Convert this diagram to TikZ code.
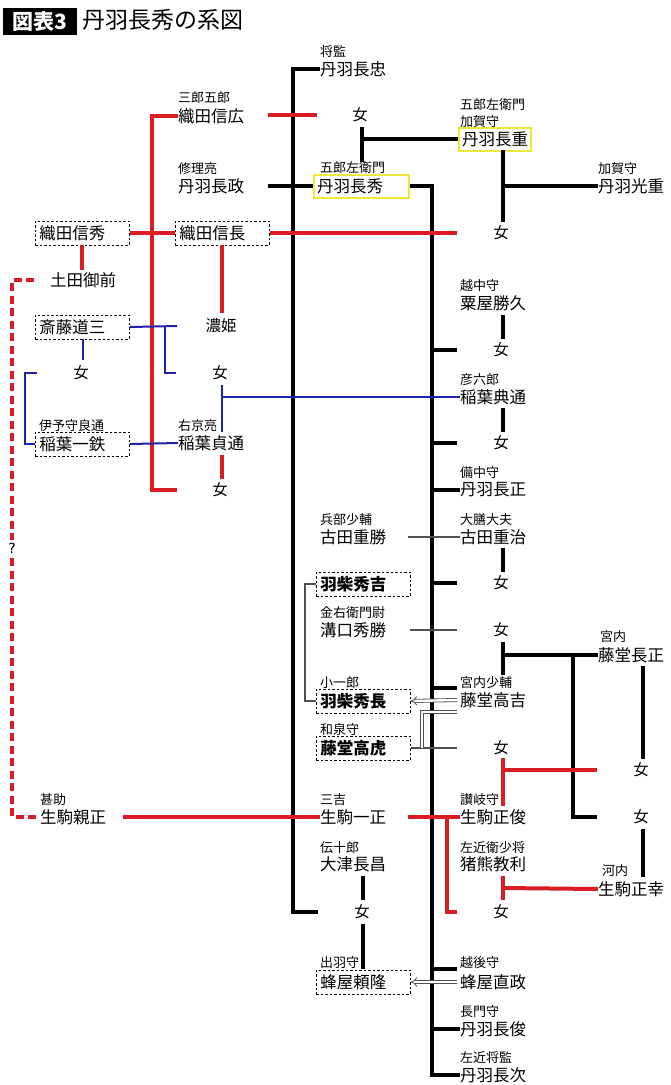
\documentclass[tikz,border=0pt]{standalone}
\usepackage{fontspec}
\setmainfont{Noto Sans CJK JP}
\newfontfamily\qmarkfont{DejaVu Sans}
\usetikzlibrary{arrows.meta}
\definecolor{KeizuRed}{HTML}{D81E24}
\definecolor{KeizuBlue}{HTML}{1E22A8}
\definecolor{KeizuYellow}{HTML}{F0E63C}
\definecolor{KeizuGray}{HTML}{505050}

\tikzset{
  nm/.style={anchor=west, inner sep=0pt, font=\fontsize{16.5}{16.5}\selectfont},
  ttl/.style={anchor=west, inner sep=0pt, font=\fontsize{13}{13}\selectfont},
  onna/.style={inner sep=0pt, font=\fontsize{15.5}{15.5}\selectfont},
  dbox/.style={draw, line width=0.9pt, dash pattern=on 2.5pt off 2pt, anchor=west,
    inner xsep=4pt, inner ysep=0pt, minimum height=24pt, text width=86pt, align=left,
    font=\fontsize{16.5}{16.5}\selectfont},
  ybox/.style={draw=KeizuYellow, line width=2pt, anchor=west, inner xsep=3pt,
    inner ysep=0pt, minimum height=23pt, text width=#1, align=left,
    font=\fontsize{16.5}{16.5}\selectfont},
  blk/.style={line width=4pt, black},
  redl/.style={line width=4pt, KeizuRed},
  blu/.style={line width=2pt, KeizuBlue},
  thn/.style={line width=1.2pt, KeizuGray},
  dbl/.style={draw=KeizuGray, line width=0.8pt, double=white, double distance=2.4pt},
}

\begin{document}
\begin{tikzpicture}[x=1pt, y=-1pt]
\useasboundingbox (0,0) rectangle (670,1085);

% heading
\node[fill=black, text=white, font=\bfseries\fontsize{21}{21}\selectfont, minimum width=74pt,
  minimum height=27pt, inner sep=0pt, anchor=west] (zuhyo) at (3,21) {図表3};
\node[anchor=west, inner sep=0pt, font=\fontsize{23}{23}\selectfont] (heading) at (82,20) {丹羽長秀の系図};

% left side: Oda, Saito, Inaba
\node[ttl] (nobuhiro-t) at (178,98) {三郎五郎};
\node[nm] (nobuhiro) at (178,116) {織田信広};
\node[ttl] (nagamasa-t) at (178,169) {修理亮};
\node[nm] (nagamasa) at (178,186) {丹羽長政};
\node[dbox] (nobuhide) at (35,233) {織田信秀};
\node[dbox] (nobunaga) at (175,233) {織田信長};
\node[nm] (tsuchida) at (50,280) {土田御前};
\node[dbox] (dosan) at (35,327) {斎藤道三};
\node[onna] (nohime) at (221,326) {濃姫};
\node[onna] (onna-dosan) at (81,373) {女};
\node[onna] (onna-dosan2) at (220,373) {女};
\node[ttl] (ittetsu-t) at (39,426) {伊予守良通};
\node[dbox] (ittetsu) at (35,444) {稲葉一鉄};
\node[ttl] (sadamichi-t) at (178,426) {右京亮};
\node[nm] (sadamichi) at (178,443) {稲葉貞通};
\node[onna] (onna-sada) at (220,490) {女};
\node[ttl] (chikamasa-t) at (40,800) {甚助};
\node[nm] (chikamasa) at (40,817) {生駒親正};

% middle column
\node[ttl] (nagatada-t) at (320,52) {将監};
\node[nm] (nagatada) at (320,69) {丹羽長忠};
\node[onna] (onna-top) at (360,115) {女};
\node[ttl] (nagahide-t) at (320,168) {五郎左衛門};
\node[ybox=89pt] (nagahide) at (313,186) {丹羽長秀};
\node[ttl] (shigekatsu-t) at (320,520) {兵部少輔};
\node[nm] (shigekatsu) at (320,537) {古田重勝};
\node[dbox, font=\bfseries\fontsize{16.5}{16.5}\selectfont] (hideyoshi) at (316,584) {羽柴秀吉};
\node[ttl] (hidekatsu-t) at (320,613) {金右衛門尉};
\node[nm] (hidekatsu) at (320,630) {溝口秀勝};
\node[ttl] (hidenaga-t) at (320,683) {小一郎};
\node[dbox, font=\bfseries\fontsize{16.5}{16.5}\selectfont] (hidenaga) at (316,701) {羽柴秀長};
\node[ttl] (takatora-t) at (320,730) {和泉守};
\node[dbox, font=\bfseries\fontsize{16.5}{16.5}\selectfont] (takatora) at (316,748) {藤堂高虎};
\node[ttl] (kazumasa-t) at (320,800) {三吉};
\node[nm] (kazumasa) at (320,817) {生駒一正};
\node[ttl] (nagamasa-o-t) at (320,848) {伝十郎};
\node[nm] (nagamasa-o) at (320,864) {大津長昌};
\node[onna] (onna-otsu) at (362,912) {女};
\node[ttl] (yoritaka-t) at (320,963) {出羽守};
\node[dbox] (yoritaka) at (316,982) {蜂屋頼隆};

% right column
\node[ttl] (nagashige-t1) at (460,105) {五郎左衛門};
\node[ttl] (nagashige-t2) at (460,122) {加賀守};
\node[ybox=66pt] (nagashige) at (458,139) {丹羽長重};
\node[ttl] (mitsushige-t) at (598,169) {加賀守};
\node[nm] (mitsushige) at (598,186) {丹羽光重};
\node[onna] (onna-shige) at (501,233) {女};
\node[ttl] (katsuhisa-t) at (460,286) {越中守};
\node[nm] (katsuhisa) at (460,303) {粟屋勝久};
\node[onna] (onna-awaya) at (501,350) {女};
\node[ttl] (noritomi-t) at (460,380) {彦六郎};
\node[nm] (noritomi) at (460,397) {稲葉典通};
\node[onna] (onna-inaba) at (501,443) {女};
\node[ttl] (nagamasa-b-t) at (460,473) {備中守};
\node[nm] (nagamasa-b) at (460,490) {丹羽長正};
\node[ttl] (shigeharu-t) at (460,520) {大膳大夫};
\node[nm] (shigeharu) at (460,537) {古田重治};
\node[onna] (onna-furuta) at (501,583) {女};
\node[onna] (onna-mizo) at (501,630) {女};
\node[ttl] (nagamasa-t2-t) at (600,637) {宮内};
\node[nm] (nagamasa-t2) at (598,655) {藤堂長正};
\node[ttl] (takayoshi-t) at (460,683) {宮内少輔};
\node[nm] (takayoshi) at (460,700) {藤堂高吉};
\node[onna] (onna-tora) at (501,748) {女};
\node[onna] (onna-naga) at (641,770) {女};
\node[ttl] (masatoshi-t) at (460,800) {讃岐守};
\node[nm] (masatoshi) at (460,817) {生駒正俊};
\node[onna] (onna-todo) at (641,817) {女};
\node[ttl] (noritoshi-t) at (460,848) {左近衛少将};
\node[nm] (noritoshi) at (460,864) {猪熊教利};
\node[ttl] (masayuki-t) at (602,871) {河内};
\node[nm] (masayuki) at (598,889) {生駒正幸};
\node[onna] (onna-ikoma) at (501,912) {女};
\node[ttl] (naomasa-t) at (460,963) {越後守};
\node[nm] (naomasa) at (460,982) {蜂屋直政};
\node[ttl] (nagatoshi-t) at (460,1012) {長門守};
\node[nm] (nagatoshi) at (460,1029) {丹羽長俊};
\node[ttl] (nagatsugu-t) at (460,1058) {左近将監};
\node[nm] (nagatsugu) at (460,1075) {丹羽長次};

% black lines
\draw[blk] (nagatada.west) -| (293,912) -- (318,912);
\draw[blk] (268,186) -- (nagahide.west);
\draw[blk] (nagahide.east) -| (432,1075) -- (nagatsugu.west);
\foreach \y in {350,443,583,688,969}
  \draw[blk] (432,\y) -- (457,\y);
\draw[blk] (432,490) -- (nagamasa-b.west);
\draw[blk] (432,1029) -- (nagatoshi.west);
\draw[blk] (362,127) -- (362,162);
\draw[blk] (362,139) -- (nagashige.west);
\draw[blk] (503,150) -- (503,222);
\draw[blk] (503,186) -- (mitsushige.west);
\draw[blk] (503,315) -- (503,339);
\draw[blk] (503,408) -- (503,432);
\draw[blk] (503,548) -- (503,572);
\draw[blk] (503,642) -- (503,675);
\draw[blk] (503,655) -- (nagamasa-t2.west);
\draw[blk] (573,655) -- (573,817) -- (597,817);
\draw[blk] (643,666) -- (643,759);
\draw[blk] (643,829) -- (643,877);
\draw[blk] (363,876) -- (363,900);
\draw[blk] (363,924) -- (363,969);

% red lines
\draw[redl] (nobuhiro.west) -| (152,490) -- (177,490);
\draw[redl] (268,115) -- (317,115);
\draw[redl] (nobuhide.east) -- (nobunaga.west);
\draw[redl] (nobunaga.east) -- (457,233);
\draw[redl] (nobuhide.south -| 82,0) -- (82,270);
\draw[redl] (222,245) -- (222,313);
\draw[redl] (222,455) -- (222,479);
\draw[redl] (chikamasa.east) ++(17,0) -- (kazumasa.west);
\draw[redl] (408,817) -- (masatoshi.west);
\draw[redl] (447,817) |- (457,912);
\draw[redl] (503,758) -- (503,806);
\draw[redl] (503,770) -- (597,770);
\draw[redl] (503,876) -- (503,900);
\draw[redl] (503,888) -- (masayuki.west);
\draw[KeizuRed, line width=3.5pt, dash pattern=on 8pt off 4.5pt]
  (34,280) -- (12,280) -- (12,817) -- (36,817);
\node[fill=white, inner xsep=1pt, inner ysep=3pt, font=\qmarkfont\fontsize{14}{14}\selectfont] (unknown) at (12,548) {?};

% blue lines
\draw[blu] (dosan.east) -- (177,326);
\draw[blu] (83,339) -- (83,360);
\draw[blu] (165,326) |- (176,373);
\draw[blu] (37,373) -- (25,373) |- (ittetsu.west);
\draw[blu] (ittetsu.east) -- (sadamichi.west);
\draw[blu] (222,385) -- (222,432);
\draw[blu] (222,397) -- (noritomi.west);

% thin lines
\draw[thn] (408,537) -- (shigeharu.west);
\draw[thn] (hideyoshi.west) -- (305,584) |- (hidenaga.west);
\draw[thn] (hidekatsu.east -| 410,0) -- (457,630);
\draw[thn] (takatora.east) -- (457,748);

% double lines
\draw[dbl, {Implies}-] (hidenaga.east) -- (457,700);
\draw[dbl] (457,712) -- (422,712) -- (422,748);
\draw[dbl, {Implies}-] (yoritaka.east) -- (457,982);
\end{tikzpicture}
\end{document}
